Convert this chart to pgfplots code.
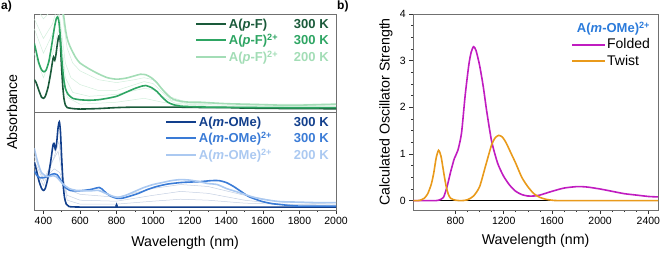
\documentclass[border=0pt]{standalone}
\usepackage{pgfplots}
\pgfplotsset{compat=1.18}
\usepackage{fontspec}
\setmainfont{Liberation Sans}
\definecolor{dgreen}{HTML}{1A5A3A}
\definecolor{mgreen}{HTML}{2EA563}
\definecolor{lgreen}{HTML}{A3DDB6}
\definecolor{fgreen}{HTML}{D2EEDC}
\definecolor{dblue}{HTML}{123F8C}
\definecolor{mblue}{HTML}{3A7BD6}
\definecolor{lblue}{HTML}{ABC9F1}
\definecolor{fblue}{HTML}{C5D0E2}
\definecolor{magen}{HTML}{C01CC0}
\definecolor{orng}{HTML}{E99A1B}
\definecolor{tblue}{HTML}{2B7BDB}
\definecolor{frame}{HTML}{707070}
\pgfplotsset{
  every axis/.append style={
    scale only axis,
    axis line style={draw=frame, line width=0.8pt},
    tick style={draw=black!80, line width=0.6pt},
    major tick length=4pt, minor tick length=2pt,
    tick label style={font=\fontsize{10.5}{12}\selectfont},
    /pgf/number format/assume math mode=true,
    /pgf/number format/1000 sep={},
    label style={font=\fontsize{14.2}{16}\selectfont},
  },
  leg/.style={
    legend style={draw=none, fill=none, font=\fontsize{13}{15}\selectfont\bfseries,
      row sep=0.5pt, inner sep=0pt, legend cell align=left},
    legend image code/.code={\draw[##1, line width=1.6pt] (0pt,0pt) -- (30pt,0pt);},
  },
  legb/.style={
    legend style={draw=none, fill=none, font=\fontsize{14}{16}\selectfont,
      row sep=1pt, inner sep=0pt, legend cell align=left},
    legend image code/.code={\fill[##1] (0pt,-1pt) rectangle (33pt,1pt);},
  },
}
\begin{document}
\begin{tikzpicture}
\path[use as bounding box] (0pt,0pt) rectangle (661pt,-252pt);
\node[anchor=north west, font=\fontsize{12}{14}\selectfont\bfseries, inner sep=0pt] at (1pt,-1pt) {a)};
\node[anchor=north west, font=\fontsize{12}{14}\selectfont\bfseries, inner sep=0pt] at (337pt,-1pt) {b)};
\node[rotate=90, font=\fontsize{14.2}{16}\selectfont] at (12pt,-112pt) {Absorbance};
% ---------- top panel ----------
\begin{axis}[at={(34.3pt,-14pt)}, anchor=north west, width=301.7pt, height=98pt,
  xmin=350, xmax=2000, ymin=0, ymax=1, xtick=\empty, ytick=\empty, leg,
  legend style={at={(0.983,0.975)}, anchor=north east}]
\addplot[fgreen, line width=0.5pt, forget plot] coordinates {(350,0.95) (400,0.75) (450,0.9) (480,1.1) (500,0.8) (520,0.5) (550,0.35) (600,0.28) (700,0.22) (800,0.22) (900,0.28) (950,0.31) (1000,0.29) (1050,0.2) (1100,0.12) (1200,0.08) (1400,0.07) (1700,0.06) (2000,0.07)};
\addplot[fgreen, line width=0.5pt, forget plot] coordinates {(350,1.1) (400,0.95) (450,1.05) (490,1.2) (510,0.9) (530,0.65) (560,0.5) (600,0.42) (700,0.33) (800,0.3) (900,0.33) (950,0.35) (1000,0.33) (1050,0.24) (1100,0.15) (1200,0.09) (1500,0.08) (2000,0.08)};
\addplot[fgreen, line width=0.5pt, forget plot] coordinates {(350,0.85) (400,0.6) (450,0.8) (480,1.0) (500,0.7) (520,0.35) (560,0.2) (650,0.16) (800,0.18) (900,0.22) (950,0.24) (1000,0.23) (1060,0.15) (1120,0.09) (1300,0.06) (2000,0.06)};
\addplot[fgreen, line width=0.5pt, forget plot] coordinates {(350,0.6) (400,0.35) (450,0.6) (485,0.85) (505,0.45) (530,0.15) (600,0.08) (800,0.1) (950,0.14) (1050,0.1) (1200,0.06) (2000,0.05)};
\addplot[dgreen, line width=1.6pt, smooth, tension=0.4] coordinates {(350,0.33) (360,0.30) (375,0.22) (390,0.15) (400,0.14) (410,0.16) (425,0.25) (440,0.40) (450,0.52) (455,0.56) (462,0.53) (468,0.58) (475,0.68) (482,0.76) (487,0.78) (492,0.72) (498,0.50) (505,0.28) (512,0.14) (520,0.07) (530,0.045) (560,0.035) (600,0.03) (700,0.035) (800,0.045) (900,0.05) (1000,0.05) (1100,0.05) (1200,0.048) (1300,0.045) (1400,0.045) (1500,0.04) (1600,0.038) (1700,0.036) (1800,0.035) (2000,0.033)};
\addlegendentry{\textcolor{dgreen}{\makebox[65pt][l]{A(\textit{p}-F)}300 K}}
\addplot[mgreen, line width=1.6pt, smooth, tension=0.4] coordinates {(350,0.70) (360,0.62) (375,0.50) (390,0.43) (403,0.41) (415,0.43) (430,0.52) (445,0.68) (460,0.86) (470,0.95) (477,0.97) (484,0.93) (492,0.78) (500,0.55) (510,0.35) (520,0.24) (535,0.18) (560,0.14) (600,0.125) (650,0.12) (700,0.125) (750,0.14) (800,0.16) (850,0.20) (900,0.24) (940,0.265) (960,0.27) (990,0.25) (1020,0.21) (1050,0.15) (1080,0.10) (1110,0.075) (1150,0.06) (1200,0.055) (1300,0.05) (1400,0.048) (1600,0.045) (1800,0.043) (2000,0.045)};
\addlegendentry{\textcolor{mgreen}{\makebox[65pt][l]{A(\textit{p}-F)\textsuperscript{2+}}300 K}}
\addplot[lgreen, line width=1.6pt, smooth, tension=0.4] coordinates {(350,1.3) (400,1.25) (450,1.3) (480,1.35) (500,1.1) (510,0.99) (520,0.85) (530,0.75) (545,0.67) (575,0.56) (600,0.50) (650,0.44) (700,0.39) (750,0.35) (800,0.335) (850,0.345) (900,0.37) (930,0.385) (960,0.38) (990,0.35) (1020,0.30) (1050,0.23) (1080,0.17) (1110,0.13) (1150,0.11) (1200,0.10) (1250,0.10) (1300,0.095) (1400,0.085) (1500,0.08) (1600,0.075) (1700,0.07) (1800,0.07) (1900,0.075) (2000,0.08)};
\addlegendentry{\textcolor{lgreen}{\makebox[65pt][l]{A(\textit{p}-F)\textsuperscript{2+}}200 K}}
\end{axis}
% ---------- bottom panel ----------
\begin{axis}[at={(34.3pt,-112pt)}, anchor=north west, width=301.7pt, height=98pt,
  xmin=350, xmax=2000, ymin=0, ymax=1, ytick=\empty,
  xtick={400,600,...,2000}, minor x tick num=1, xtick pos=bottom, tick align=outside,
  xlabel={Wavelength (nm)},
  xlabel style={at={(axis description cs:0.5,-0.33)}, anchor=center},
  leg, legend style={at={(0.983,0.975)}, anchor=north east}]
\addplot[fblue, line width=0.5pt, forget plot] coordinates {(350,0.5) (400,0.3) (450,0.5) (480,0.6) (500,0.4) (530,0.15) (600,0.1) (800,0.09) (1000,0.15) (1150,0.19) (1300,0.17) (1500,0.1) (1700,0.06) (2000,0.05)};
\addplot[fblue, line width=0.5pt, forget plot] coordinates {(350,0.45) (400,0.25) (460,0.55) (485,0.7) (505,0.35) (530,0.1) (600,0.06) (800,0.06) (1000,0.09) (1150,0.11) (1300,0.1) (1500,0.07) (2000,0.04)};
\addplot[fblue, line width=0.5pt, forget plot] coordinates {(350,0.55) (400,0.32) (460,0.42) (490,0.38) (520,0.22) (600,0.16) (800,0.13) (1000,0.22) (1150,0.26) (1300,0.24) (1500,0.15) (1700,0.08) (2000,0.06)};
\addplot[dblue, line width=1.6pt, smooth, tension=0.4] coordinates {(350,0.49) (360,0.42) (375,0.30) (390,0.22) (400,0.20) (410,0.22) (425,0.33) (440,0.50) (452,0.66) (458,0.68) (465,0.62) (472,0.68) (480,0.84) (487,0.90) (493,0.80) (500,0.52) (507,0.28) (515,0.13) (525,0.06) (540,0.035) (600,0.03) (700,0.03) (797,0.03) (800,0.055) (803,0.03) (900,0.03) (1200,0.03) (1500,0.03) (1700,0.03) (2000,0.03)};
\addlegendentry{\textcolor{dblue}{\makebox[95pt][l]{A(\textit{m}-OMe)}300 K}}
\addplot[mblue, line width=1.6pt, smooth, tension=0.4] coordinates {(350,0.40) (365,0.35) (380,0.33) (400,0.33) (420,0.34) (440,0.36) (460,0.37) (475,0.36) (490,0.32) (505,0.27) (520,0.23) (545,0.20) (580,0.195) (620,0.20) (660,0.21) (690,0.225) (705,0.23) (720,0.215) (745,0.17) (770,0.14) (800,0.12) (830,0.12) (870,0.14) (920,0.17) (970,0.21) (1020,0.24) (1080,0.265) (1150,0.28) (1200,0.285) (1260,0.29) (1320,0.30) (1360,0.30) (1400,0.28) (1440,0.24) (1480,0.19) (1520,0.14) (1560,0.11) (1600,0.085) (1650,0.065) (1700,0.055) (1750,0.045) (1800,0.04) (2000,0.04)};
\addlegendentry{\textcolor{mblue}{\makebox[95pt][l]{A(\textit{m}-OMe)\textsuperscript{2+}}300 K}}
\addplot[lblue, line width=1.6pt, smooth, tension=0.4] coordinates {(350,0.63) (360,0.55) (375,0.45) (390,0.38) (410,0.35) (430,0.34) (450,0.35) (470,0.34) (490,0.30) (510,0.26) (540,0.22) (580,0.20) (650,0.195) (700,0.20) (740,0.17) (780,0.14) (810,0.13) (850,0.15) (900,0.19) (950,0.23) (1000,0.26) (1050,0.28) (1100,0.30) (1150,0.31) (1200,0.305) (1250,0.29) (1300,0.27) (1350,0.26) (1400,0.22) (1450,0.19) (1500,0.16) (1550,0.13) (1600,0.11) (1650,0.095) (1700,0.085) (1800,0.08) (1900,0.075) (2000,0.075)};
\addlegendentry{\textcolor{lblue}{\makebox[95pt][l]{A(\textit{m}-OMe)\textsuperscript{2+}}200 K}}
\end{axis}
% ---------- panel b ----------
\begin{axis}[at={(413.3pt,-14pt)}, anchor=north west, width=244.7pt, height=196pt,
  xmin=450, xmax=2480, ymin=-0.2, ymax=4,
  xtick={800,1200,...,2400}, minor x tick num=3,
  ytick={0,1,2,3,4}, minor y tick num=3,
  extra y ticks={0}, extra y tick labels={},
  extra y tick style={grid=major, major grid style={black, line width=0.8pt}, major tick length=0pt},
  tick align=outside, xtick pos=bottom, ytick pos=left,
  xlabel={Wavelength (nm)}, ylabel={Calculated Oscillator Strength},
  xlabel style={at={(axis description cs:0.5,-0.158)}, anchor=center},
  ylabel style={at={(axis description cs:-0.112,0.5)}, anchor=center, rotate=0},
  legb, legend style={at={(0.976,0.885)}, anchor=north east}]
\addlegendimage{fill=magen, draw=none}
\addlegendentry{Folded}
\addlegendimage{fill=orng, draw=none}
\addlegendentry{Twist}
\addplot[magen, line width=1.6pt, smooth, tension=0.4, forget plot] coordinates {(450,0) (550,0) (620,0) (660,0.01) (700,0.07) (730,0.3) (760,0.62) (790,0.9) (820,1.08) (850,1.45) (880,2.25) (910,2.9) (930,3.18) (950,3.3) (970,3.22) (1000,2.9) (1030,2.45) (1060,1.9) (1100,1.27) (1150,0.8) (1200,0.52) (1250,0.33) (1300,0.2) (1350,0.13) (1400,0.1) (1450,0.1) (1500,0.12) (1600,0.2) (1700,0.27) (1800,0.3) (1850,0.3) (1900,0.29) (2000,0.25) (2100,0.2) (2200,0.15) (2300,0.12) (2400,0.09) (2480,0.08)};
\addplot[orng, line width=1.6pt, smooth, tension=0.4, forget plot] coordinates {(450,0) (500,0.005) (540,0.05) (570,0.15) (600,0.36) (620,0.6) (640,0.92) (660,1.08) (680,0.95) (700,0.64) (720,0.34) (740,0.14) (760,0.05) (800,0.01) (850,0) (900,0.02) (950,0.1) (1000,0.3) (1050,0.75) (1100,1.2) (1130,1.35) (1160,1.4) (1190,1.36) (1220,1.24) (1260,1.02) (1300,0.8) (1350,0.5) (1400,0.3) (1450,0.15) (1500,0.07) (1550,0.03) (1600,0.01) (1700,0) (2480,0)};
\node[anchor=north east, inner sep=0pt, text=tblue, font=\fontsize{13}{15}\selectfont\bfseries] at (rel axis cs:0.968,0.96) {A(\textit{m}-OMe)\textsuperscript{2+}};
\end{axis}
\end{tikzpicture}
\end{document}
